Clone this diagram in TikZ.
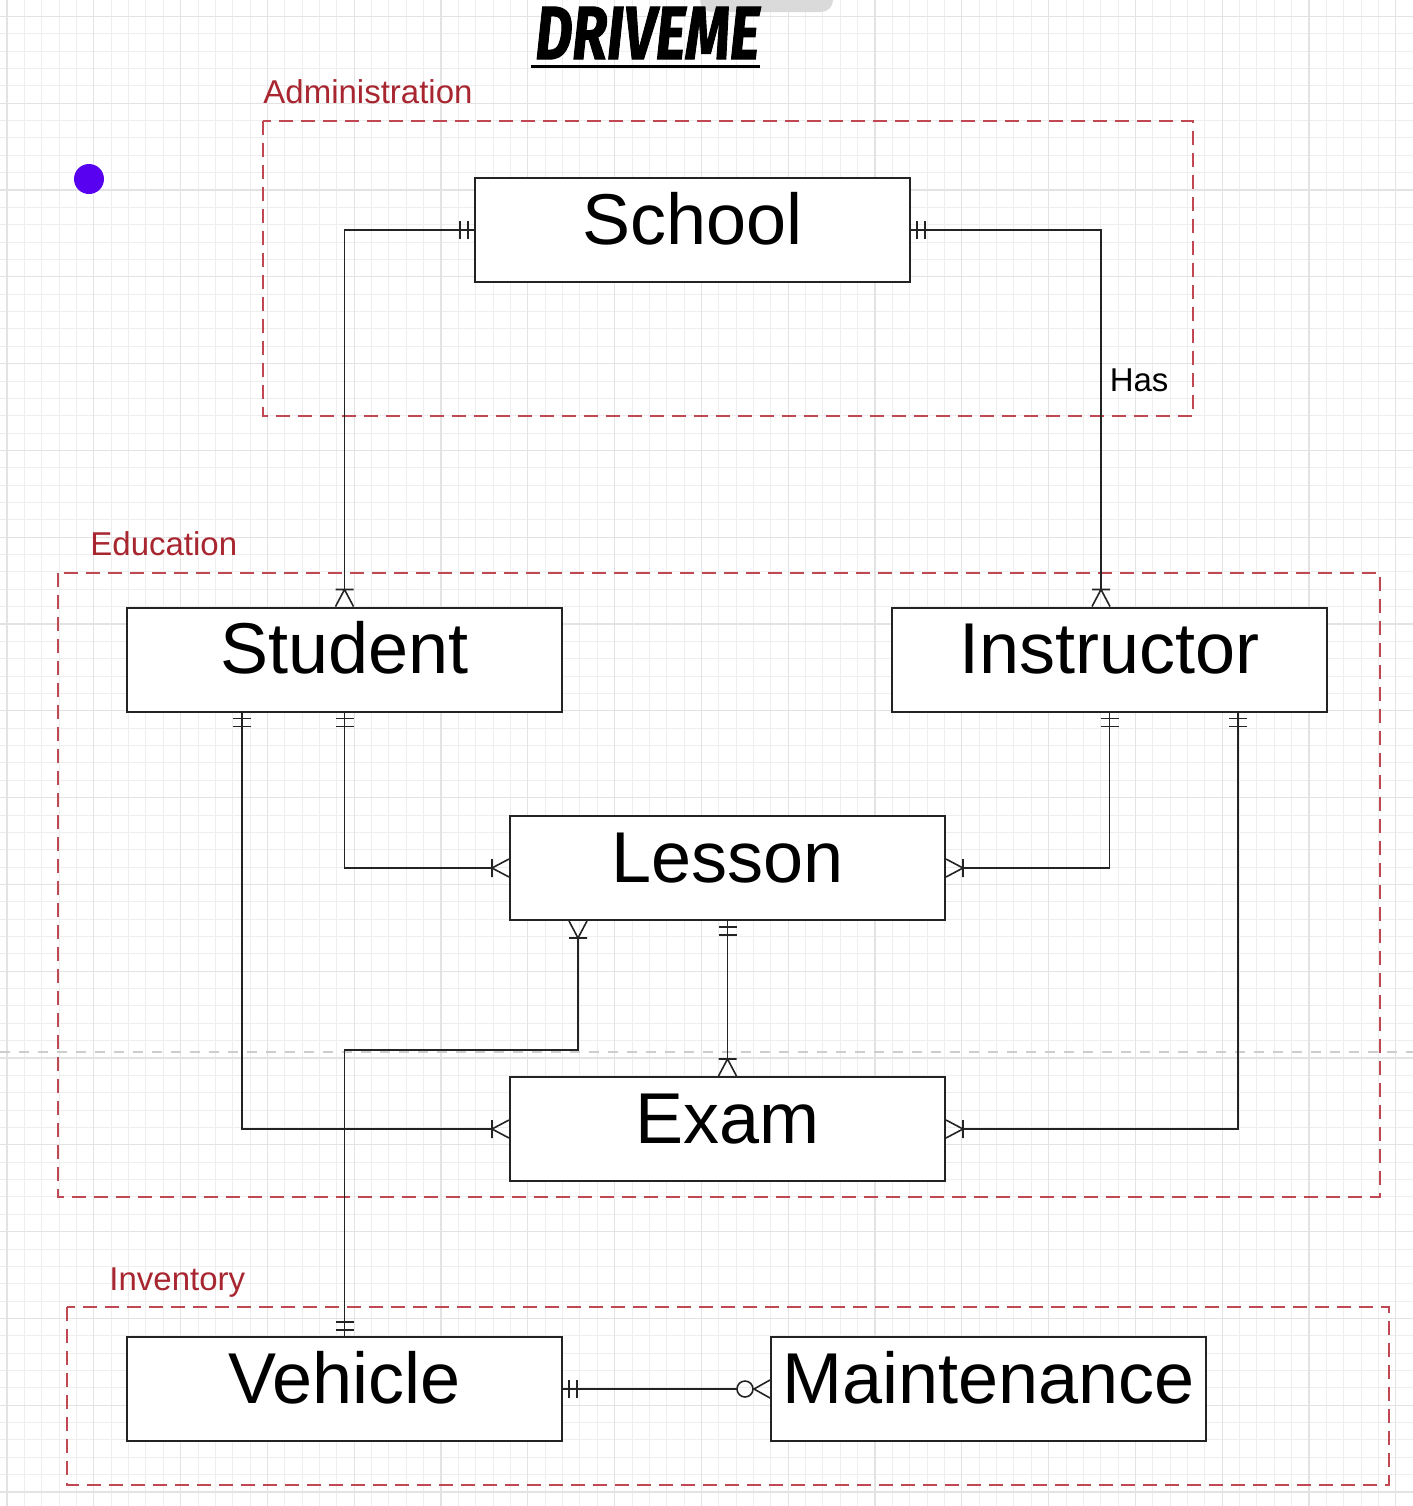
\documentclass[tikz,border=0pt]{standalone}
\usepackage{fontspec}
\setmainfont{Liberation Sans}
\newfontfamily\titlefont{Fira Sans}
\usepackage{xcolor}
\usepackage{tikz}
\usetikzlibrary{arrows.meta, positioning}

\definecolor{regionred}{RGB}{192,72,82}
\definecolor{labelred}{RGB}{168,38,48}
\definecolor{linegray}{RGB}{35,35,35}
\definecolor{dotpurple}{RGB}{88,0,240}
\definecolor{gridminor}{RGB}{238,238,238}
\definecolor{gridmajor}{RGB}{227,227,227}
\definecolor{pagebreak}{RGB}{205,205,205}
\definecolor{tabgray}{RGB}{218,218,218}

\pgfdeclarearrow{
  name = erOne,
  cache = false,
  setup code = {
    \pgfarrowssettipend{0pt}
    \pgfarrowssetlineend{0pt}
    \pgfarrowssetbackend{-8pt}
    \pgfarrowshullpoint{0pt}{4.5pt}
    \pgfarrowshullpoint{-8pt}{4.5pt}
    \pgfarrowshullpoint{-8pt}{-4.5pt}
    \pgfarrowshullpoint{0pt}{-4.5pt}
  },
  drawing code = {
    \pgfpathmoveto{\pgfqpoint{-3pt}{-4.5pt}}
    \pgfpathlineto{\pgfqpoint{-3pt}{4.5pt}}
    \pgfpathmoveto{\pgfqpoint{-7pt}{-4.5pt}}
    \pgfpathlineto{\pgfqpoint{-7pt}{4.5pt}}
    \pgfusepathqstroke
  }
}
\pgfdeclarearrow{
  name = erMany,
  cache = false,
  setup code = {
    \pgfarrowssettipend{0pt}
    \pgfarrowssetlineend{-8.5pt}
    \pgfarrowssetbackend{-8.5pt}
    \pgfarrowshullpoint{0pt}{4.5pt}
    \pgfarrowshullpoint{-8.5pt}{4.5pt}
    \pgfarrowshullpoint{-8.5pt}{-4.5pt}
    \pgfarrowshullpoint{0pt}{-4.5pt}
  },
  drawing code = {
    \pgfpathmoveto{\pgfqpoint{0pt}{4.5pt}}
    \pgfpathlineto{\pgfqpoint{-8.5pt}{0pt}}
    \pgfpathmoveto{\pgfqpoint{0pt}{-4.5pt}}
    \pgfpathlineto{\pgfqpoint{-8.5pt}{0pt}}
    \pgfpathmoveto{\pgfqpoint{-8.5pt}{-4.5pt}}
    \pgfpathlineto{\pgfqpoint{-8.5pt}{4.5pt}}
    \pgfusepathqstroke
  }
}
\pgfdeclarearrow{
  name = erZeroMany,
  cache = false,
  setup code = {
    \pgfarrowssettipend{0pt}
    \pgfarrowssetlineend{-16.5pt}
    \pgfarrowssetbackend{-16.5pt}
    \pgfarrowshullpoint{0pt}{4.5pt}
    \pgfarrowshullpoint{-16.5pt}{4.5pt}
    \pgfarrowshullpoint{-16.5pt}{-4.5pt}
    \pgfarrowshullpoint{0pt}{-4.5pt}
  },
  drawing code = {
    \pgfpathmoveto{\pgfqpoint{0pt}{4.5pt}}
    \pgfpathlineto{\pgfqpoint{-8pt}{0pt}}
    \pgfpathmoveto{\pgfqpoint{0pt}{-4.5pt}}
    \pgfpathlineto{\pgfqpoint{-8pt}{0pt}}
    \pgfpathcircle{\pgfqpoint{-12.5pt}{0pt}}{4pt}
    \pgfusepathqstroke
  }
}

\begin{document}
\begin{tikzpicture}[x=0.5pt,y=-0.5pt,thin,
    entity/.style={draw=linegray, line width=1pt, fill=white, text=black,
      minimum width=217.5pt, minimum height=52pt, inner sep=0pt,
      text height=26pt, text depth=12pt, font=\fontsize{36}{40}\selectfont},
    region/.style={draw=regionred, line width=1pt, dash pattern=on 7pt off 4pt},
    regionlabel/.style={anchor=base west, inner sep=0pt, text=labelred,
      font=\fontsize{16.5}{20}\selectfont},
    conn/.style={draw=linegray, line width=0.8pt}]
  \tikzset{minorgrid/.style={draw=gridminor, line width=0.45pt},
    majorgrid/.style={draw=gridmajor, line width=0.55pt}}

  \path[use as bounding box, fill=white] (0,0) rectangle (1413,1506);
  \foreach \i in {0,...,81} \draw[minorgrid] ({7+17.36*\i},0) -- ++(0,1506);
  \foreach \i in {0,...,86} \draw[minorgrid] (0,{16.4+17.36*\i}) -- ++(1413,0);
  \foreach \i in {0,...,16} \draw[majorgrid] ({7+86.8*\i},0) -- ++(0,1506);
  \foreach \i in {0,...,17} \draw[majorgrid] (0,{16.4+86.8*\i}) -- ++(1413,0);
  \draw[pagebreak, line width=1pt, dash pattern=on 5pt off 4.5pt] (0,1052) -- (1413,1052);
  \fill[tabgray, rounded corners=6pt] (700,-30) rectangle (833,12);

  \node[inner sep=0pt, font=\titlefont\bfseries\itshape\addfontfeature{FakeBold=1.6}\fontsize{37.7}{40}\selectfont]
    (title) at (647.5,33) {\scalebox{0.76}[1]{DRIVEME}};
  \draw[line width=1.5pt] ([xshift=-2pt,yshift=-3.5pt]title.south west) -- ([yshift=-3.5pt]title.south east);

  \fill[dotpurple] (89,179) circle (7.5pt);

  \draw[region] (263,121) rectangle (1193,416);
  \draw[region] (58,573) rectangle (1380,1197);
  \draw[region] (67,1307) rectangle (1389,1485);
  \node[regionlabel] (admLabel) at (263,103) {Administration};
  \node[regionlabel] (eduLabel) at (90,555) {Education};
  \node[regionlabel] (invLabel) at (109,1290) {Inventory};

  \node[entity] (School) at (692.5,230) {School};
  \node[entity] (Student) at (344.5,659.5) {Student};
  \node[entity] (Instructor) at (1109.5,659.5) {Instructor};
  \node[entity] (Lesson) at (727.5,868) {Lesson};
  \node[entity] (Exam) at (727.5,1129) {Exam};
  \node[entity] (Vehicle) at (344.5,1389) {Vehicle};
  \node[entity] (Maintenance) at (988.5,1389) {Maintenance};
  \coordinate (kink) at (578,1050);

  \path[conn, {erOne}-{erMany}] (School.west) -| (Student.north);
  \path[conn, {erOne}-{erMany}] (School.east) -| node[pos=0.7, right, inner sep=4pt,
    font=\fontsize{16.5}{20}\selectfont] (has) {Has} ([xshift=-4.25pt]Instructor.north);
  \path[conn, {erOne}-{erMany}] (Student.south) |- (Lesson.west);
  \path[conn, {erOne}-{erMany}] ([xshift=-51.25pt]Student.south) |- (Exam.west);
  \path[conn, {erOne}-{erMany}] (Instructor.south) |- (Lesson.east);
  \path[conn, {erOne}-{erMany}] ([xshift=64.25pt]Instructor.south) |- (Exam.east);
  \path[conn, {erOne}-{erMany}] (Vehicle.north) |- (kink) -- ([xshift=-74.75pt]Lesson.south);
  \path[conn, {erOne}-{erMany}] (Lesson.south) -- (Exam.north);
  \path[conn, {erOne}-{erZeroMany}] (Vehicle.east) -- (Maintenance.west);
\end{tikzpicture}
\end{document}
